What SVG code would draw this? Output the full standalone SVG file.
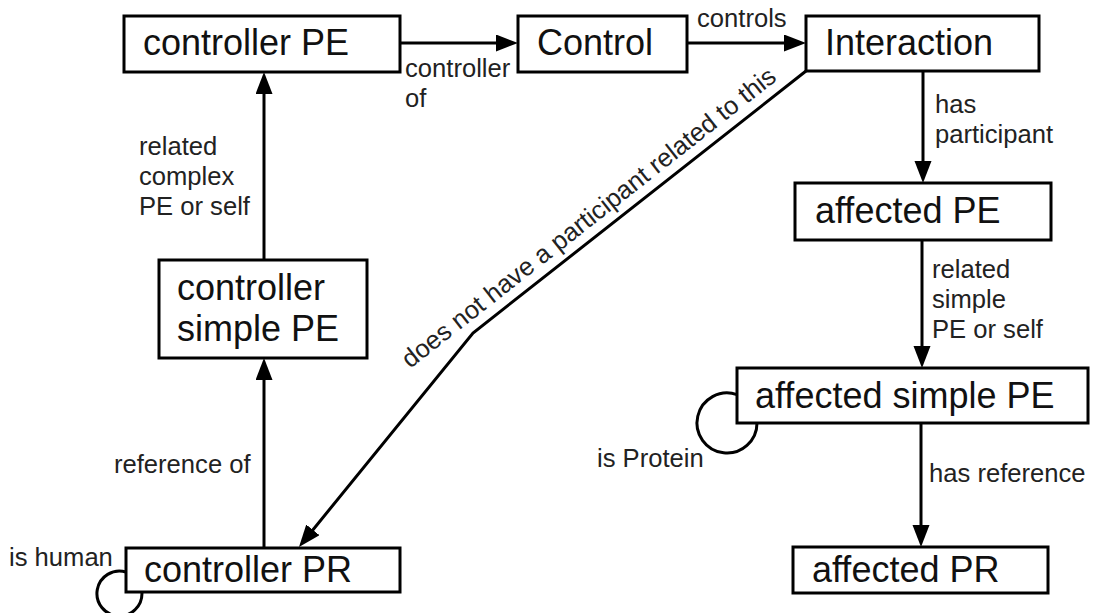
<svg xmlns="http://www.w3.org/2000/svg" width="1102" height="613" viewBox="0 0 1102 613">
<style>
.box{fill:#fff;stroke:#000;stroke-width:3}
.nt{font-family:"Liberation Sans",Arial,sans-serif;font-size:36px;fill:#111}
.lb{font-family:"Liberation Sans",Arial,sans-serif;font-size:25.6px;fill:#222}
.ln{fill:none;stroke:#000;stroke-width:3}
.arr{marker-end:url(#ah)}
</style>
<defs>
<marker id="ah" markerUnits="userSpaceOnUse" markerWidth="24" markerHeight="18" refX="12" refY="8.5" orient="auto">
<path d="M0,0 L22,8.5 L0,17 z" fill="#000"/>
</marker>
</defs>
<rect width="1102" height="613" fill="#fff"/>
<g id="connectors">
<line class="ln arr" x1="400" y1="43" x2="508" y2="43"/>
<line class="ln arr" x1="687" y1="43" x2="796" y2="43"/>
<line class="ln arr" x1="923" y1="71" x2="923" y2="173"/>
<line class="ln arr" x1="922" y1="240" x2="922" y2="358"/>
<line class="ln arr" x1="921" y1="423" x2="921" y2="537"/>
<line class="ln arr" x1="264" y1="260" x2="264" y2="82"/>
<line class="ln arr" x1="264" y1="548" x2="264" y2="368"/>
<polyline class="ln arr" points="806,71 473,333 305.3,539.2"/>
<path class="ln" d="M737,394.7 A30,30 0 1 0 757,423"/>
<path class="ln" d="M126,572 A22.5,22.5 0 1 0 141.9,592"/>
<text class="lb" x="697" y="27">controls</text>
<text class="lb" x="405" y="77">controller</text>
<text class="lb" x="405" y="107">of</text>
<text class="lb" x="935" y="113">has</text>
<text class="lb" x="935" y="143">participant</text>
<text class="lb" x="932" y="278">related</text>
<text class="lb" x="932" y="308">simple</text>
<text class="lb" x="932" y="338">PE or self</text>
<text class="lb" x="929" y="482">has reference</text>
<text class="lb" x="597" y="467">is Protein</text>
<text class="lb" x="139" y="155">related</text>
<text class="lb" x="139" y="185">complex</text>
<text class="lb" x="139" y="215">PE or self</text>
<text class="lb" x="114" y="473">reference of</text>
<text class="lb" x="9" y="566">is human</text>
<text class="lb" transform="translate(410,369) rotate(-38.2)">does not have a participant related to this</text>
</g>
<g id="controllerPE"><rect class="box" x="124" y="16" width="276" height="56"/><text class="nt" x="143" y="55">controller PE</text></g>
<g id="control"><rect class="box" x="518" y="16" width="169" height="56"/><text class="nt" x="537" y="55">Control</text></g>
<g id="interaction"><rect class="box" x="806" y="16" width="233" height="55"/><text class="nt" x="825" y="55">Interaction</text></g>
<g id="affectedPE"><rect class="box" x="795" y="183" width="256" height="57"/><text class="nt" x="815" y="223">affected PE</text></g>
<g id="affectedSimplePE"><rect class="box" x="737" y="368" width="351" height="55"/><text class="nt" x="755" y="408">affected simple PE</text></g>
<g id="affectedPR"><rect class="box" x="793" y="547" width="255" height="46"/><text class="nt" x="812" y="582">affected PR</text></g>
<g id="controllerSimplePE"><rect class="box" x="159" y="260" width="208" height="98"/><text class="nt" x="177" y="300">controller</text><text class="nt" x="177" y="341">simple PE</text></g>
<g id="controllerPR"><rect class="box" x="126" y="548" width="274" height="44"/><text class="nt" x="144" y="582">controller PR</text></g>
</svg>
